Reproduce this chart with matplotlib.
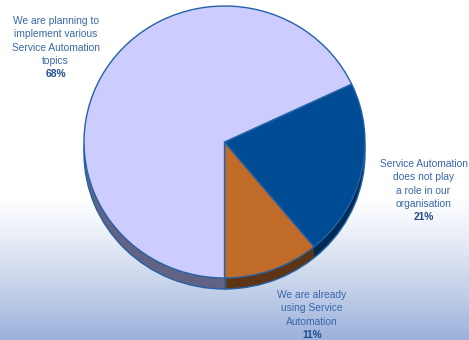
import numpy as np
import matplotlib
matplotlib.use("Agg")
import matplotlib.pyplot as plt
from matplotlib.colors import LinearSegmentedColormap

# Survey answers, drawn counter-clockwise from 6 o'clock
labels = [
    "We are already\nusing Service\nAutomation",
    "Service Automation\ndoes not play\na role in our\norganisation",
    "We are planning to\nimplement various\nService Automation\ntopics",
]
shares = [11, 21, 68]
face_colors = ["#C06C28", "#004C94", "#CCCCFF"]
side_colors = ["#5E3514", "#002B55", "#626284"]

W, H = 469, 340
fig = plt.figure(figsize=(W / 100, H / 100), dpi=100)

# background: white fading to pale blue at the bottom
bg = fig.add_axes([0, 0, 1, 1])
bg.set_axis_off()
grad = np.ones((H, 1))
rows = np.arange(H)
start = 195
grad[start:, 0] = 1 - ((rows[start:] - start) / (H - 1 - start)) ** 1.2
cmap = LinearSegmentedColormap.from_list("bgfade", ["#9CB1DB", "#FFFFFF"])
bg.imshow(grad, aspect="auto", cmap=cmap, vmin=0, vmax=1,
          extent=[0, W, H, 0])
bg.set_xlim(0, W)
bg.set_ylim(H, 0)

# pie geometry in pixels
cx, cy = 224.5, 142.0
rx, ry = 140.5, 136.0
depth = 11.0

ax = fig.add_axes([(cx - rx) / W, 1 - (cy + ry) / H, 2 * rx / W, 2 * ry / H])
edge = "#2462A8"

# extruded side of the pie
for k in np.linspace(depth, 0.5, 24):
    wedges, _ = ax.pie(shares, colors=side_colors, startangle=270,
                       counterclock=True, radius=1.0,
                       center=(0, -k / ry), frame=False,
                       wedgeprops=dict(linewidth=0))
    for w in wedges:
        w.set_clip_on(False)
# outline of the side bottom (one full ring, no radial seams)
wedges, _ = ax.pie([1], colors=["none"], startangle=270, radius=1.0,
                   center=(0, -depth / ry),
                   wedgeprops=dict(linewidth=1.0, edgecolor=edge, fill=False))
for w in wedges:
    w.set_clip_on(False)

# top face
wedges, _ = ax.pie(shares, colors=face_colors, startangle=270,
                   counterclock=True, radius=1.0, center=(0, 0),
                   wedgeprops=dict(linewidth=1.0, edgecolor=edge))
for w in wedges:
    w.set_clip_on(False)

# vertical edge at the front seam (lavender / orange boundary)
ax.plot([0, 0], [-1, -1 - depth / ry], color=edge, lw=1.0, clip_on=False)

ax.set_aspect("auto")
ax.set_xlim(-1, 1)
ax.set_ylim(-1, 1)
ax.set_axis_off()

# labels, one text per line for even spacing
text_color = "#3A68A8"
pct_color = "#1E4E8E"
font = "Liberation Sans"
fs = 7.4
step = 13.3
positions = [(312, 294), (423.5, 163), (55.5, 20)]
for lab, val, (x, y) in zip(labels, shares, positions):
    lines = lab.split("\n")
    for i, line in enumerate(lines):
        fig.text(x / W, 1 - (y + step * i) / H, line, ha="center",
                 va="center_baseline", color=text_color, fontsize=fs,
                 family=font)
    fig.text(x / W, 1 - (y + step * len(lines)) / H, f"{val}%",
             ha="center", va="center_baseline", color=pct_color,
             fontsize=fs, family=font, fontweight="bold")

fig.savefig("out.png", dpi=100)
